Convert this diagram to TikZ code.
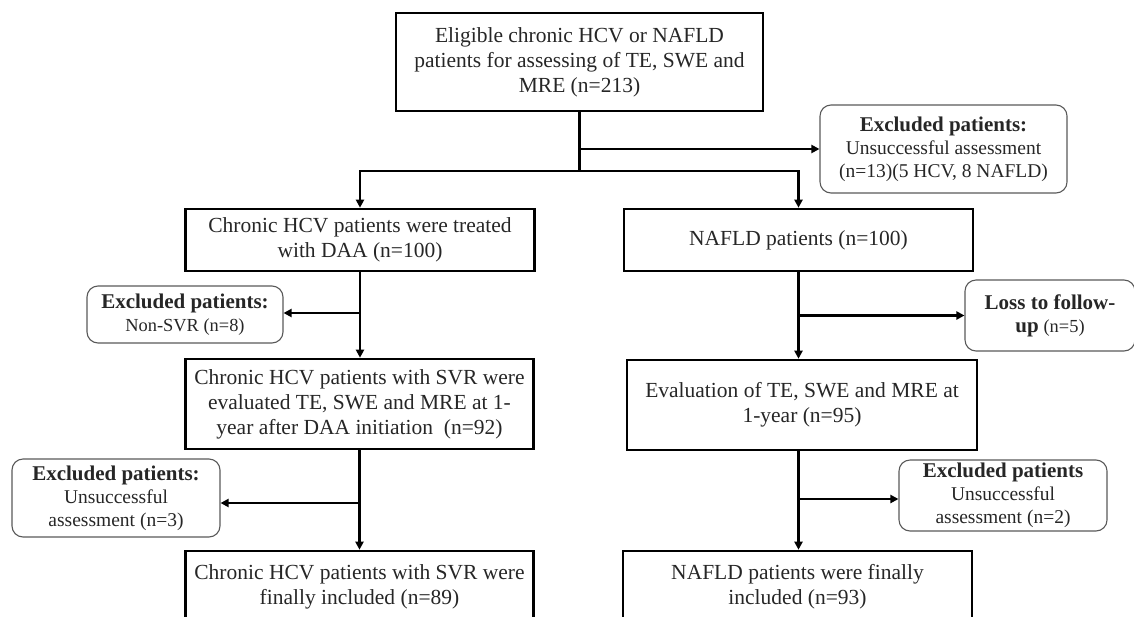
\documentclass[tikz,border=0pt]{standalone}
\usepackage{fontspec}
\setmainfont{Liberation Serif}
\usetikzlibrary{arrows.meta}
\newcommand\bhead[1]{{\fontsize{21}{23}\selectfont\bfseries #1}}
\newcommand\smalltxt[1]{{\fontsize{18.4}{22}\selectfont #1}}
\begin{document}
\begin{tikzpicture}[x=1pt,y=-1pt,
  box/.style={draw=black, line width=2.6pt, align=center, inner sep=0pt,
    font=\fontsize{21.5}{25}\selectfont, text=black!85},
  rbox/.style={draw=black!65, line width=1.1pt, rounded corners=11pt, align=center, inner sep=0pt,
    font=\fontsize{19.5}{23}\selectfont, text=black!85},
  conn/.style={line width=2.4pt, draw=black},
  arr/.style={conn, -{Triangle[length=8pt,width=8pt]}}]
\clip (0,0) rectangle (1134,616);
% boxes
\node[box, minimum width=367pt, minimum height=98pt] (top) at (579.5,62)
  {Eligible chronic HCV or NAFLD\\patients for assessing of TE, SWE and\\MRE (n=213)};
\node[rbox, minimum width=247pt, minimum height=88pt] (ex1) at (943.5,149)
  {\bhead{Excluded patients:}\\Unsuccessful assessment\\(n=13)(5 HCV, 8 NAFLD)};
\node[box, minimum width=349pt, minimum height=62pt] (hcv1) at (360,240)
  {Chronic HCV patients were treated\\with DAA (n=100)};
\node[box, minimum width=349pt, minimum height=62pt] (naf1) at (798.5,240)
  {NAFLD patients (n=100)};
\node[rbox, minimum width=196pt, minimum height=57pt] (ex2) at (185,314.5)
  {\bhead{Excluded patients:}\\\smalltxt{Non-SVR (n=8)}};
\node[rbox, minimum width=170pt, minimum height=71pt] (loss) at (1050,315.5)
  {\bhead{Loss to follow-}\\\bhead{up} \smalltxt{(n=5)}};
\node[box, minimum width=348pt, minimum height=90pt] (hcv2) at (359.5,404)
  {Chronic HCV patients with SVR were\\evaluated TE, SWE and MRE at 1-\\year after DAA initiation~ (n=92)};
\node[box, minimum width=350pt, minimum height=90pt] (eval) at (802,405)
  {Evaluation of TE, SWE and MRE at\\1-year (n=95)};
\node[rbox, minimum width=208pt, minimum height=78pt] (ex3) at (116,498)
  {\bhead{Excluded patients:}\\Unsuccessful\\assessment (n=3)};
\node[rbox, minimum width=208pt, minimum height=71pt] (ex4) at (1003,495.5)
  {\bhead{Excluded patients}\\Unsuccessful\\assessment (n=2)};
\node[box, minimum width=348pt, minimum height=72pt] (hcv3) at (359.5,587)
  {Chronic HCV patients with SVR were\\finally included (n=89)};
\node[box, minimum width=349pt, minimum height=72pt] (naf2) at (797.5,587)
  {NAFLD patients were finally\\included (n=93)};
% connectors
\coordinate (s1) at (579.5,171);
\draw[conn] (top.south) -- (s1);
\draw[arr] (top.south |- ex1.west) -- (ex1.west);
\draw[arr] (s1) -| (hcv1.north);
\draw[arr] (s1) -| (naf1.north);
\draw[arr] (hcv1.south) -- (hcv1.south |- hcv2.north);
\draw[arr] (hcv1.south |- 0,313) -- (ex2.east |- 0,313);
\draw[arr] (naf1.south) -- (naf1.south |- eval.north);
\draw[arr] (naf1.south |- loss.west) -- (loss.west);
\draw[arr] (hcv2.south) -- (hcv2.south |- hcv3.north);
\draw[arr] (hcv2.south |- 0,503) -- (ex3.east |- 0,503);
\draw[arr] (naf1.south |- eval.south) -- (naf1.south |- naf2.north);
\draw[arr] (naf1.south |- 0,499) -- (ex4.west |- 0,499);
\end{tikzpicture}
\end{document}
